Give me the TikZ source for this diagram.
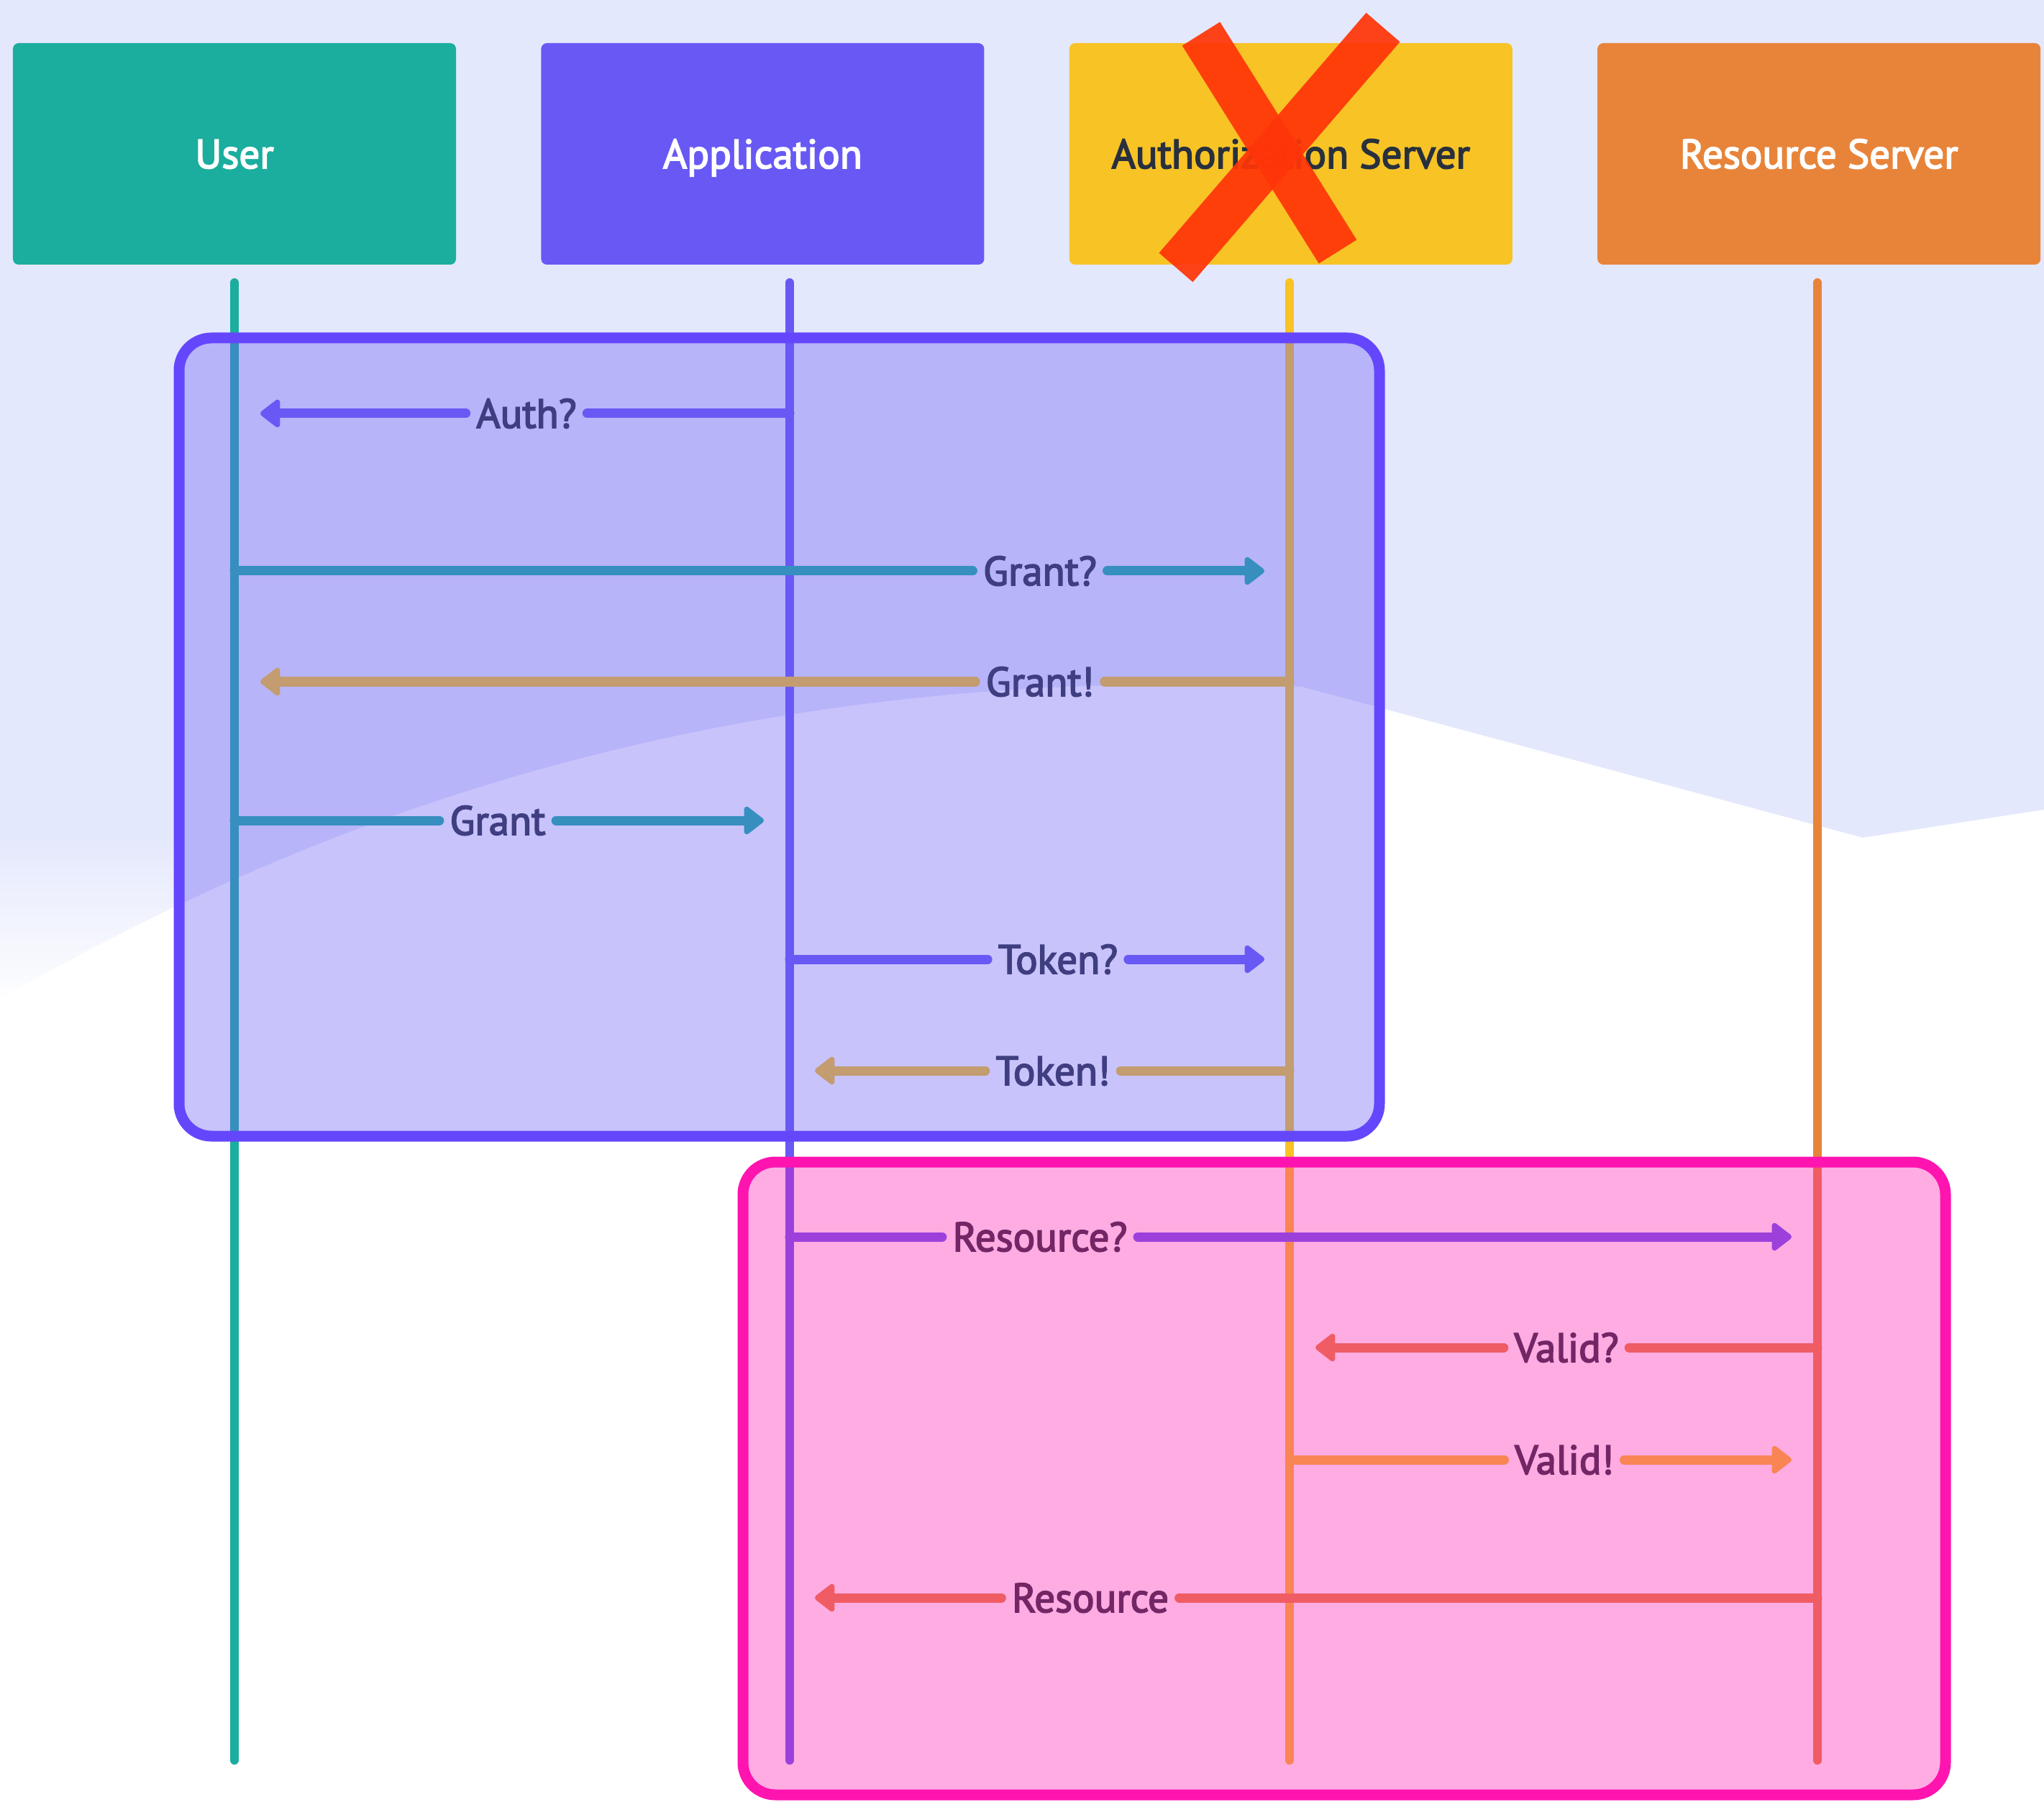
\documentclass[tikz,border=0pt]{standalone}
\usepackage{fontspec}
\setmainfont{PT Sans}[FakeBold=3]
\definecolor{userTeal}{RGB}{27,174,159}
\definecolor{appPurple}{RGB}{104,89,245}
\definecolor{authYellow}{RGB}{247,195,37}
\definecolor{resOrange}{RGB}{232,132,58}
\definecolor{textDark}{RGB}{40,48,62}
\definecolor{frameBlue}{RGB}{100,71,252}
\definecolor{framePink}{RGB}{255,20,176}
\definecolor{crossRed}{RGB}{255,53,8}
\definecolor{bgLavender}{RGB}{228,232,252}
\usetikzlibrary{arrows.meta, positioning}

\tikzset{
  actor/.style={rectangle, rounded corners=0.08cm, minimum width=6.16cm, minimum height=3.08cm,
    font=\fontsize{16.2}{19}\selectfont, text=white, text height=0.4cm, text depth=0cm},
  life/.style={line width=0.12cm, line cap=round},
  msg/.style={line width=0.13cm, line cap=round},
  headtip/.style={-{Triangle[length=0.3cm, width=0.44cm, round]}},
  lbl/.style={font=\fontsize{16.2}{19}\selectfont, text=textDark, inner xsep=0.14cm, inner ysep=0.05cm,
    text height=0.4cm, text depth=0cm},
  groupbox/.style={line width=0.15cm, rounded corners=0.45cm}
}

\begin{document}
\begin{tikzpicture}[y=-1cm]
  \useasboundingbox (0,0) rectangle (28.42,25.06);

  % Background
  \fill[bgLavender] (0,0) rectangle (28.42,25.06);
  \shade[top color=bgLavender, bottom color=white] (0,11.6) rectangle (2.49,14.0);
  \fill[white] (0,13.9) .. controls (6,10.4) and (12,9.3) .. (18.1,9.55) -- (25.9,11.65)
    -- (28.42,11.26) -- (28.42,25.06) -- (0,25.06) -- cycle;

  % Actors
  \node[actor, fill=userTeal] (user) at (3.26,2.14) {User};
  \node[actor, fill=appPurple, right=1.17cm of user] (app) {Application};
  \node[actor, fill=authYellow, text=textDark, right=1.17cm of app] (auth) {Authorization Server};
  \node[actor, fill=resOrange, right=1.17cm of auth] (res) {Resource Server};

  % Crossed out
  \draw[crossRed, opacity=0.93, line width=0.62cm] (16.70,0.47) -- (18.60,3.50);
  \draw[crossRed, opacity=0.93, line width=0.62cm] (19.23,0.38) -- (16.35,3.72);

  % Lifelines
  \foreach \n/\x/\c in {user/3.26/userTeal, app/10.98/appPurple, auth/17.93/authYellow, res/25.27/resOrange} {
    \draw[life, \c] (\x,3.93) coordinate (\n top) -- (\x,24.48) coordinate (\n bot);
  }

  % Messages
  \foreach \i/\y/\a/\b/\lx/\c/\t in {
      1/5.75/10.98/3.62/7.32/appPurple/Auth?,
      2/7.94/3.26/17.58/14.46/userTeal/Grant?,
      3/9.48/17.93/3.62/14.46/authYellow/Grant!,
      4/11.41/3.26/10.62/6.92/userTeal/Grant,
      5/13.34/10.98/17.58/14.71/appPurple/Token?,
      6/14.89/17.93/11.33/14.64/authYellow/Token!,
      7/17.20/10.98/24.91/14.46/appPurple/Resource?,
      8/18.74/25.27/18.29/21.78/resOrange/Valid?,
      9/20.30/17.93/24.91/21.75/authYellow/Valid!,
      10/22.22/25.27/11.33/15.16/resOrange/Resource} {
    \coordinate (s\i) at (\a,\y);
    \coordinate (t\i) at (\b,\y);
    \node[lbl] (m\i) at (\lx,\y) {\t};
    \draw[msg, \c] (s\i) -- (m\i);
    \draw[msg, headtip, \c] (m\i) -- (t\i);
  }

  % Groups
  \draw[groupbox, draw=frameBlue, fill=appPurple, fill opacity=0.36] (2.49,4.70) rectangle (19.18,15.80);
  \draw[groupbox, draw=framePink, fill=framePink, fill opacity=0.35] (10.33,16.16) rectangle (27.05,24.96);
\end{tikzpicture}
\end{document}
